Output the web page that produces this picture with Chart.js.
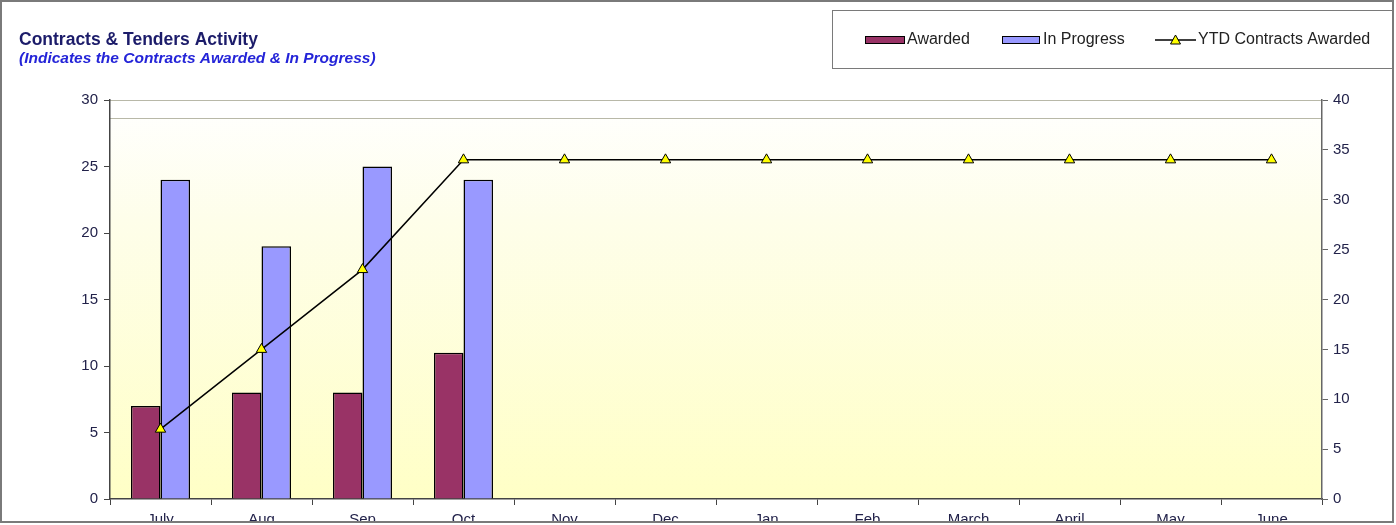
<!DOCTYPE html>
<html>
<head>
<meta charset="utf-8">
<title>Contracts & Tenders Activity</title>
<script src="https://cdn.jsdelivr.net/npm/chart.js@4/dist/chart.umd.min.js"></script>
<style>
  html, body { margin: 0; padding: 0; background: #fff; }
  #wrap { position: relative; width: 1396px; height: 525px; overflow: hidden; }
  canvas { display: block; }
</style>
</head>
<body>
<div id="wrap"><canvas id="myChart" width="1396" height="525"></canvas></div>
<script>
const months = ["July", "Aug", "Sep", "Oct", "Nov", "Dec", "Jan", "Feb", "March", "April", "May", "June"];
const awarded = [7, 8, 8, 11, null, null, null, null, null, null, null, null];
const inProgress = [24, 19, 25, 24, null, null, null, null, null, null, null, null];
const ytdAwarded = [7, 15, 23, 34, 34, 34, 34, 34, 34, 34, 34, 34];

const titleText = "Contracts & Tenders Activity";
const subtitleText = "(Indicates the Contracts Awarded & In Progress)";

const FONT = "'Liberation Sans', Arial, sans-serif";

// plot background, frame, title and boxed legend
const decor = {
  id: "decor",
  beforeDraw(chart) {
    const { ctx, chartArea: a } = chart;
    ctx.save();
    const g = ctx.createLinearGradient(0, a.top, 0, a.bottom);
    g.addColorStop(0, "#ffffff");
    g.addColorStop(0.3, "#fefeea");
    g.addColorStop(1, "#ffffc6");
    ctx.fillStyle = g;
    ctx.fillRect(a.left, a.top, a.right - a.left, a.bottom - a.top);
    ctx.fillStyle = "#ffffff";
    ctx.fillRect(a.left, a.top, a.right - a.left, 18);
    ctx.strokeStyle = "#b8b8a8";
    ctx.lineWidth = 1;
    ctx.beginPath();
    ctx.moveTo(a.left, a.top + 0.5);
    ctx.lineTo(a.right, a.top + 0.5);
    ctx.moveTo(a.left, a.top + 18.5);
    ctx.lineTo(a.right, a.top + 18.5);
    ctx.stroke();
    ctx.restore();
  },
  afterDraw(chart) {
    const { ctx } = chart;
    ctx.save();
    // clip area below the frame
    ctx.fillStyle = "#ffffff";
    ctx.fillRect(0, 523, chart.width, 10);
    ctx.fillRect(1394, 0, 10, chart.height);

    ctx.strokeStyle = "#7a7a7a";
    ctx.lineWidth = 2;
    ctx.strokeRect(1, 1, 1392, 521);

    // title
    ctx.textBaseline = "alphabetic";
    ctx.textAlign = "left";
    ctx.fillStyle = "#1c1c6a";
    ctx.font = "bold 17.5px " + FONT;
    ctx.fillText(titleText, 19, 45);
    ctx.fillStyle = "#2424d8";
    ctx.font = "italic bold 15.5px " + FONT;
    ctx.fillText(subtitleText, 19, 63);

    // legend box
    ctx.strokeStyle = "#7a7a7a";
    ctx.lineWidth = 1;
    ctx.strokeRect(832.5, 10.5, 560, 58);

    const ds = chart.data.datasets;
    ctx.font = "16px " + FONT;
    ctx.textBaseline = "middle";
    const ly = 40;
    const items = [
      { i: 1, x: 865, w: 40, text: 907 },
      { i: 2, x: 1002, w: 38, text: 1043 },
    ];
    items.forEach(it => {
      ctx.fillStyle = ds[it.i].backgroundColor;
      ctx.fillRect(it.x, ly - 4, it.w, 8);
      ctx.strokeStyle = "#000";
      ctx.lineWidth = 1;
      ctx.strokeRect(it.x + 0.5, ly - 3.5, it.w - 1, 7);
      ctx.fillStyle = "#222";
      ctx.fillText(ds[it.i].label, it.text, ly);
    });
    ctx.strokeStyle = "#000";
    ctx.lineWidth = 1.5;
    ctx.beginPath();
    ctx.moveTo(1155, ly);
    ctx.lineTo(1196, ly);
    ctx.stroke();
    ctx.beginPath();
    ctx.moveTo(1175.5, ly - 5);
    ctx.lineTo(1180.5, ly + 4);
    ctx.lineTo(1170.5, ly + 4);
    ctx.closePath();
    ctx.fillStyle = "#ffff00";
    ctx.fill();
    ctx.lineWidth = 1;
    ctx.stroke();
    ctx.fillStyle = "#222";
    ctx.fillText(ds[0].label, 1198, ly);
    ctx.restore();
  }
};

const tickFont = { family: FONT, size: 15 };

new Chart(document.getElementById("myChart"), {
  type: "bar",
  data: {
    labels: months,
    datasets: [
      {
        type: "line",
        label: "YTD Contracts Awarded",
        data: ytdAwarded,
        yAxisID: "y1",
        borderColor: "#000",
        borderWidth: 1.5,
        tension: 0,
        pointStyle: "triangle",
        pointRadius: 6,
        pointBackgroundColor: "#ffff00",
        pointBorderColor: "#000",
        pointBorderWidth: 1,
        order: 0,
      },
      {
        label: "Awarded",
        data: awarded,
        yAxisID: "y",
        backgroundColor: "#993366",
        borderColor: "#000",
        borderWidth: 1.5,
        barPercentage: 1,
        categoryPercentage: 0.585,
        order: 1,
      },
      {
        label: "In Progress",
        data: inProgress,
        yAxisID: "y",
        backgroundColor: "#9999ff",
        borderColor: "#000",
        borderWidth: 1.5,
        barPercentage: 1,
        categoryPercentage: 0.585,
        order: 1,
      },
    ],
  },
  options: {
    responsive: false,
    animation: false,
    layout: { padding: { top: 100 } },
    plugins: {
      legend: { display: false },
      title: { display: false },
      tooltip: { enabled: false },
    },
    scales: {
      x: {
        offset: true,
        grid: { offset: true, drawOnChartArea: false, tickLength: 6, color: "#444" },
        border: { color: "#444", width: 1.5 },
        ticks: { font: tickFont, color: "#22224a", padding: 6, autoSkip: false, maxRotation: 0 },
        afterFit(s) { s.height = 26; },
      },
      y: {
        position: "left",
        min: 0,
        max: 30,
        ticks: { stepSize: 5, font: tickFont, color: "#22224a", padding: 6 },
        grid: { drawOnChartArea: false, tickLength: 6, color: "#444" },
        border: { color: "#444", width: 1.5 },
        afterFit(s) { s.width = 110; },
      },
      y1: {
        position: "right",
        min: 0,
        max: 40,
        ticks: { stepSize: 5, font: tickFont, color: "#22224a", padding: 5 },
        grid: { drawOnChartArea: false, tickLength: 6, color: "#666" },
        border: { color: "#666", width: 1.5 },
        afterFit(s) { s.width = 74; },
      },
    },
  },
  plugins: [decor],
});
</script>
</body>
</html>
